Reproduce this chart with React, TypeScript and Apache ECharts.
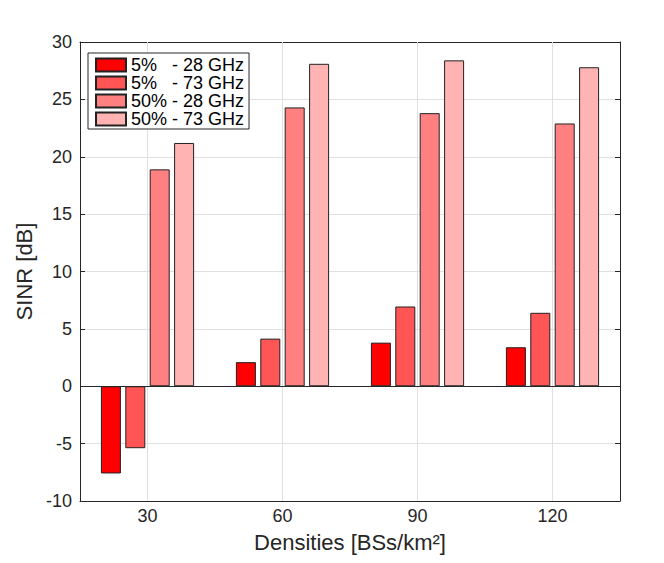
import React, { useEffect, useRef } from "react";
import * as echarts from "echarts";

const categories = ["30", "60", "90", "120"];
const seriesNames = ["5%   - 28 GHz", "5%   - 73 GHz", "50% - 28 GHz", "50% - 73 GHz"];
const p5_28 = [-7.6, 2.1, 3.8, 3.4];
const p5_73 = [-5.4, 4.15, 6.95, 6.4];
const p50_28 = [18.9, 24.3, 23.8, 22.9];
const p50_73 = [21.2, 28.1, 28.4, 27.8];
const yTicks = { min: -10, max: 30, interval: 5 };

const colors = ["#ff0000", "#ff5555", "#ff8080", "#ffb3b3"];
const FONT = "'Liberation Sans', Arial, Helvetica, sans-serif";
const AX = "#262626";
const GRID = "#e0e0e0";

export default function App() {
  const ref = useRef<HTMLDivElement>(null);
  useEffect(() => {
    document.body.style.margin = "0";
    const chart = echarts.init(ref.current!, null, { renderer: "svg" });
    const allData = [p5_28, p5_73, p50_28, p50_73];
    const series: any[] = allData.map((d, i) => ({
      type: "bar",
      name: seriesNames[i],
      data: d,
      barWidth: 20,
      barGap: "22%",
      z: 2,
      itemStyle: { color: colors[i], borderColor: "#222", borderWidth: 1 },
      xAxisIndex: 0,
      yAxisIndex: 0,
    }));
    series[3].markLine = {
      silent: true,
      symbol: "none",
      z: 3,
      label: { show: false },
      animation: false,
      data: [{ yAxis: 0, lineStyle: { color: AX, width: 1, type: "solid" } }],
    };
    // helper series alone on the top category axis (so no bar offset):
    // its bars are invisible, it only carries the vertical grid lines
    series.push({
      type: "bar",
      name: "xgrid",
      xAxisIndex: 1,
      yAxisIndex: 0,
      data: p50_73,
      silent: true,
      z: 1,
      itemStyle: { opacity: 0, color: "transparent", borderWidth: 0 },
      emphasis: { disabled: true },
      tooltip: { show: false },
      markLine: {
        silent: true,
        symbol: "none",
        z: 1,
        label: { show: false },
        animation: false,
        lineStyle: { color: GRID, width: 1, type: "solid", opacity: 1 },
        data: categories.map((_, i) => ({ xAxis: i })),
      },
    });
    const tickCommon = { show: true, inside: true, length: 5, lineStyle: { color: AX } };
    chart.setOption({
      animation: false,
      textStyle: { fontFamily: FONT },
      grid: { left: 80, right: 44, top: 42, bottom: 62, containLabel: false },
      legend: {
        orient: "vertical",
        left: 88,
        top: 53,
        z: 10,
        padding: [3, 5, 1, 7],
        itemWidth: 30,
        itemHeight: 13,
        itemGap: 0,
        icon: "rect",
        backgroundColor: "#fff",
        borderColor: AX,
        borderWidth: 1,
        borderRadius: 0,
        textStyle: { fontSize: 18, color: "#000", fontFamily: FONT },
        data: seriesNames,
      },
      xAxis: [
        {
          type: "category",
          data: categories,
          position: "bottom",
          axisLine: { show: true, onZero: false, lineStyle: { color: AX } },
          axisTick: { ...tickCommon, alignWithLabel: true },
          axisLabel: { fontSize: 18, color: AX, margin: 6, fontFamily: FONT },
          splitLine: { show: false },
          name: "Densities [BSs/km²]",
          nameLocation: "middle",
          nameGap: 30,
          nameTextStyle: { fontSize: 22, color: AX, fontFamily: FONT },
        },
        {
          type: "category",
          data: categories,
          position: "top",
          axisLine: { show: true, onZero: false, lineStyle: { color: AX } },
          axisTick: { ...tickCommon, alignWithLabel: true },
          axisLabel: { show: false },
          splitLine: { show: false },
        },
      ],
      yAxis: [
        {
          type: "value",
          position: "left",
          ...yTicks,
          axisLine: { show: true, onZero: false, lineStyle: { color: AX } },
          axisTick: tickCommon,
          axisLabel: { fontSize: 18, color: AX, margin: 8, fontFamily: FONT },
          splitLine: { show: true, lineStyle: { color: GRID, width: 1 } },
          name: "SINR [dB]",
          nameLocation: "middle",
          nameGap: 32,
          nameTextStyle: { fontSize: 22, color: AX, fontFamily: FONT },
        },
        {
          type: "value",
          position: "right",
          ...yTicks,
          axisLine: { show: true, onZero: false, lineStyle: { color: AX } },
          axisTick: tickCommon,
          axisLabel: { show: false },
          splitLine: { show: false },
        },
      ],
      series,
    });
    return () => chart.dispose();
  }, []);
  return <div ref={ref} style={{ width: 664, height: 563, position: "absolute", left: 0, top: 0 }} />;
}
